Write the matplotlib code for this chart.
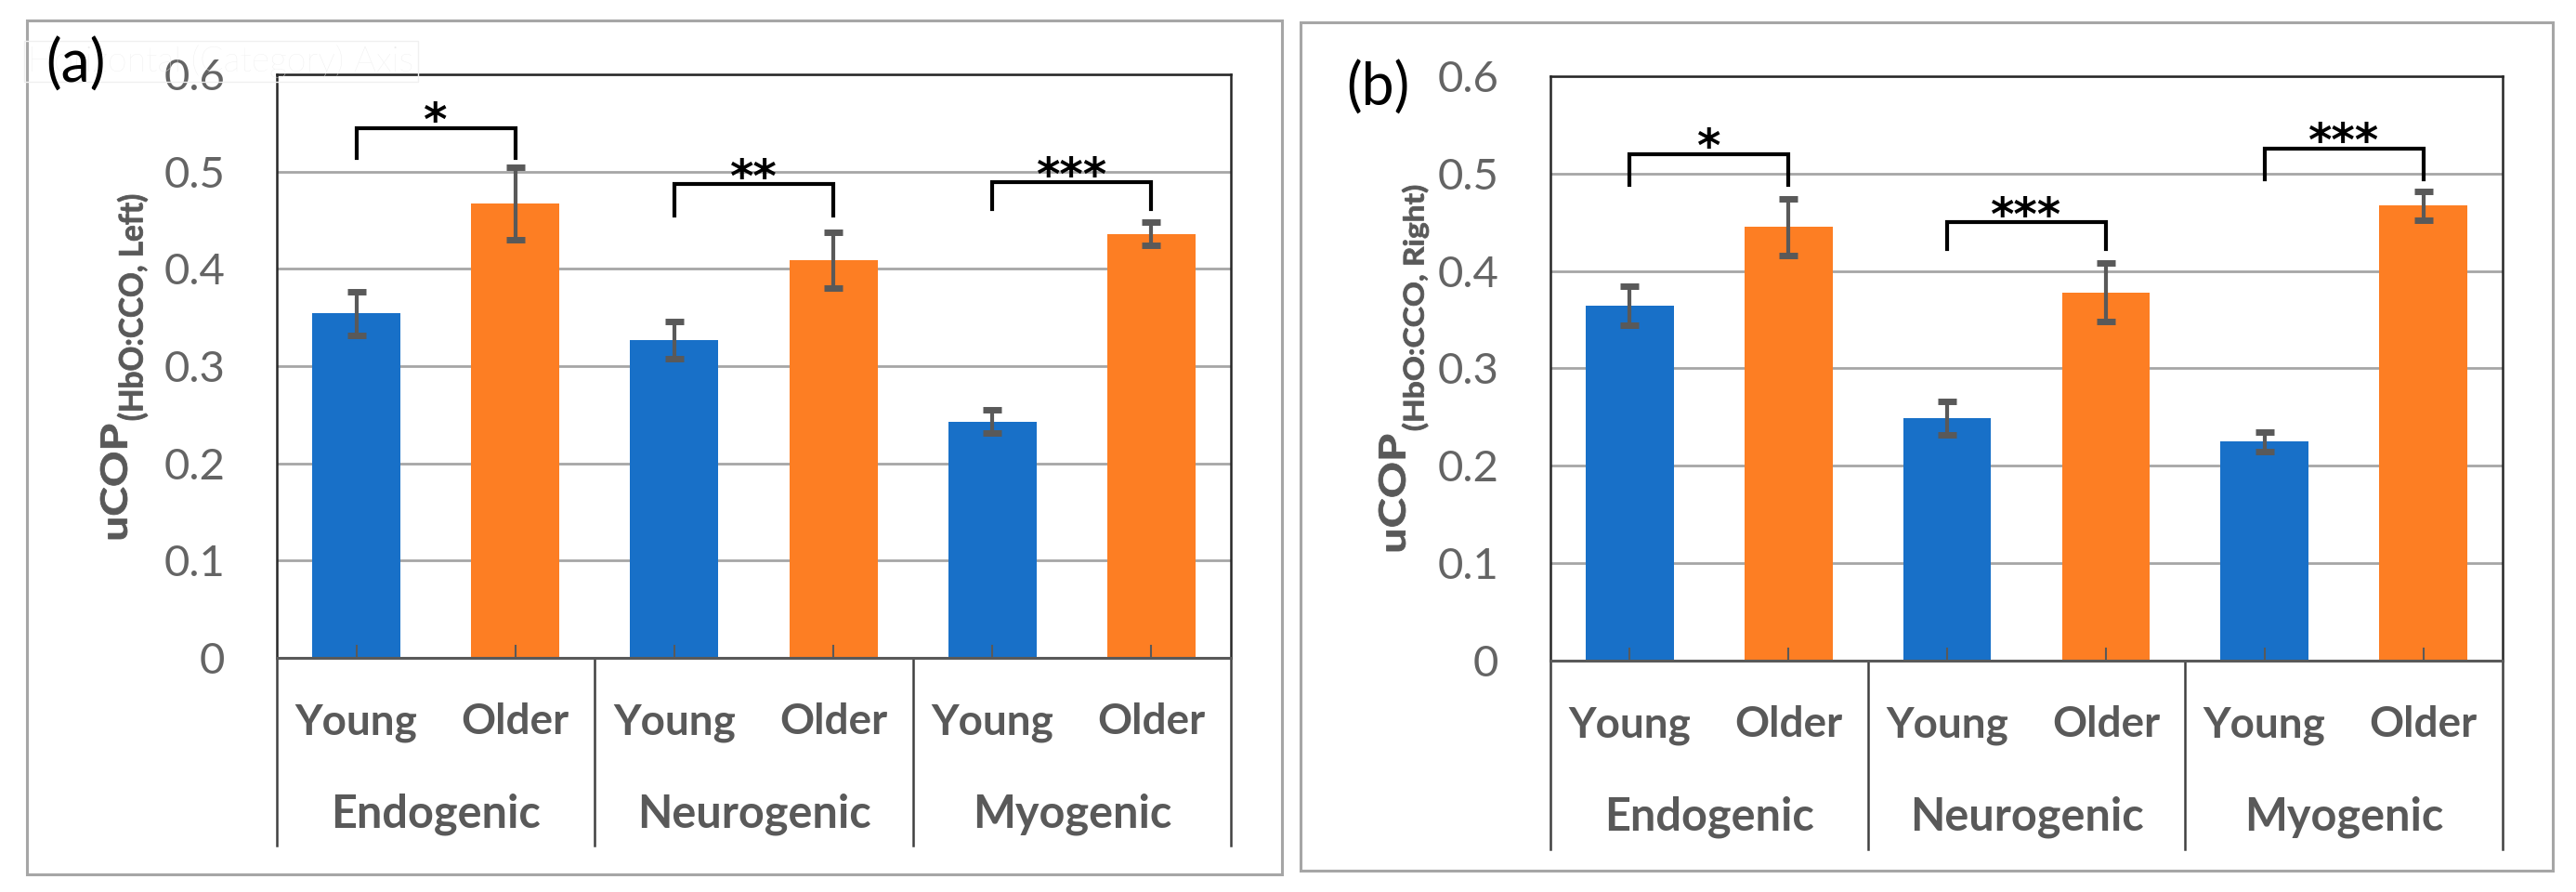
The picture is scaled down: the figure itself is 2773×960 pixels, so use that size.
import numpy as np
import matplotlib
matplotlib.use('Agg')
import matplotlib.pyplot as plt
import matplotlib.transforms as mtransforms
from matplotlib.patches import Rectangle, PathPatch
from matplotlib.textpath import TextPath
from matplotlib.font_manager import FontProperties

plt.rcParams['font.family'] = ['Lato', 'DejaVu Sans']

groups = ['Endogenic', 'Neurogenic', 'Myogenic']
ages = ['Young', 'Older']

# panel (a) - left
young_a = [0.354, 0.327, 0.243]
young_a_err = [0.022, 0.019, 0.012]
older_a = [0.467, 0.409, 0.436]
older_a_err = [0.037, 0.029, 0.012]
brk_a = [0.545, 0.487, 0.489]
leg_a = [0.514, 0.455, 0.461]
stars_a = ['*', '**', '***']

# panel (b) - right
young_b = [0.364, 0.249, 0.225]
young_b_err = [0.020, 0.017, 0.010]
older_b = [0.445, 0.378, 0.467]
older_b_err = [0.029, 0.030, 0.015]
brk_b = [0.520, 0.450, 0.526]
leg_b = [0.488, 0.423, 0.494]
stars_b = ['*', '***', '***']

yticks = [0, 0.1, 0.2, 0.3, 0.4, 0.5, 0.6]
ytick_labels = ['0', '0.1', '0.2', '0.3', '0.4', '0.5', '0.6']

BLUE = '#1870c8'
ORANGE = '#fd7e23'
DGRAY = '#595959'

W, H = 2773, 960
fig = plt.figure(figsize=(W / 100, H / 100), dpi=100)


def vertical_text(text, box, weight='bold', color=DGRAY):
    # rotated text squeezed into a pixel box (x0, x1, y0, y1), top-left origin
    x0, x1, y0, y1 = box
    tp = TextPath((0, 0), text, size=100, prop=FontProperties(family='Lato', weight=weight))
    bb = tp.get_extents()
    s_len = (y1 - y0) / bb.width
    s_h = (x1 - x0) / bb.height
    tr = (mtransforms.Affine2D().translate(-bb.x0, -bb.y0).scale(s_len, s_h)
          .rotate_deg(90).translate(x1, H - y1))
    fig.patches.append(PathPatch(tr.transform_path(tp), fc=color, ec=color, lw=0.6,
                                 transform=mtransforms.IdentityTransform()))


def draw_panel(rect, young, young_err, older, older_err, brk, leg, stars):
    ax = fig.add_axes(rect)
    ax.set_axisbelow(True)
    xy = np.arange(3) * 2
    xo = xy + 1
    ekw = dict(ecolor=DGRAY, elinewidth=3, capsize=7, capthick=5)
    ax.bar(xy, young, 0.555, yerr=young_err, color=BLUE, error_kw=ekw, zorder=2)
    ax.bar(xo, older, 0.555, yerr=older_err, color=ORANGE, error_kw=ekw, zorder=2)

    ax.set_xlim(-0.5, 5.5)
    ax.set_ylim(0, 0.6)
    ax.set_yticks(yticks)
    ax.set_yticklabels(ytick_labels)
    ax.yaxis.grid(True, color='#a6a6a6', lw=2)
    ax.tick_params(axis='y', length=0, pad=40, labelsize=34, labelcolor='#646464')
    ax.set_xticks([])
    for s in ['top', 'right', 'left']:
        ax.spines[s].set_color('#262626')
        ax.spines[s].set_linewidth(1.8)
    ax.spines['bottom'].set_color(DGRAY)
    ax.spines['bottom'].set_linewidth(2.2)

    trans = mtransforms.blended_transform_factory(ax.transData, ax.transAxes)
    # small ticks at bar centres
    for x in list(xy) + list(xo):
        ax.plot([x, x], [0, 0.02], color=DGRAY, lw=1.5, transform=trans, zorder=3)
    # category separators
    for x in [-0.5, 1.5, 3.5, 5.5]:
        ax.plot([x, x], [0, -0.322], color='#404040', lw=1.8, transform=trans,
                clip_on=False)
    for g in range(3):
        ax.text(xy[g], -0.131, ages[0], transform=trans, ha='center', va='baseline',
                fontsize=33, fontweight='bold', color=DGRAY)
        ax.text(xo[g], -0.131, ages[1], transform=trans, ha='center', va='baseline',
                fontsize=33, fontweight='bold', color=DGRAY)
        ax.text((xy[g] + xo[g]) / 2, -0.29, groups[g], transform=trans,
                ha='center', va='baseline', fontsize=35, fontweight='bold', color=DGRAY)
        # significance bracket
        ax.plot([xy[g], xy[g], xo[g], xo[g]], [leg[g], brk[g], brk[g], leg[g]],
                color='black', lw=3, zorder=4, solid_joinstyle='miter')
        ax.annotate(stars[g], xy=(xy[g] + 0.5, brk[g]), xytext=(0, -6),
                    textcoords='offset points', ha='center', va='baseline',
                    fontsize=35, fontweight='bold', family='DejaVu Sans',
                    color='black')
    return ax


axa = draw_panel([298 / W, 1 - 708 / H, 1027 / W, 628 / H],
                 young_a, young_a_err, older_a, older_a_err, brk_a, leg_a, stars_a)
axb = draw_panel([1669 / W, 1 - 711 / H, 1025 / W, 629 / H],
                 young_b, young_b_err, older_b, older_b_err, brk_b, leg_b, stars_b)

# y-axis titles: uCOP with subscript
vertical_text('uCOP', (108, 137, 457, 580))
vertical_text('(HbO:CCO, Left)', (126, 159, 210, 452))
vertical_text('uCOP', (1484, 1513, 468, 593))
vertical_text('(HbO:CCO, Right)', (1509, 1538, 200, 463))

# panel frames
fig.patches.append(Rectangle((29 / W, 1 - 941 / H), (1380 - 29) / W, (941 - 22) / H,
                             transform=fig.transFigure, fill=False,
                             edgecolor='#a6a6a6', lw=2.2, zorder=0))
fig.patches.append(Rectangle((1400 / W, 1 - 937 / H), (2748 - 1400) / W, (937 - 24) / H,
                             transform=fig.transFigure, fill=False,
                             edgecolor='#a6a6a6', lw=2.2, zorder=0))

# leftover ghost axis title
fig.text(30 / W, 1 - 66 / H, 'Horizontal (Category) Axis', fontsize=27,
         fontweight='light', color='#ececec', ha='left', va='center',
         bbox=dict(boxstyle='square,pad=0.12', fc='none', ec='#f0f0f0', lw=1))

fig.text(82 / W, 1 - 70 / H, '(a)', fontsize=45, ha='center', va='center', color='black')
fig.text(1483 / W, 1 - 95 / H, '(b)', fontsize=45, ha='center', va='center', color='black')

fig.savefig('out.png', dpi=100, facecolor='white')
